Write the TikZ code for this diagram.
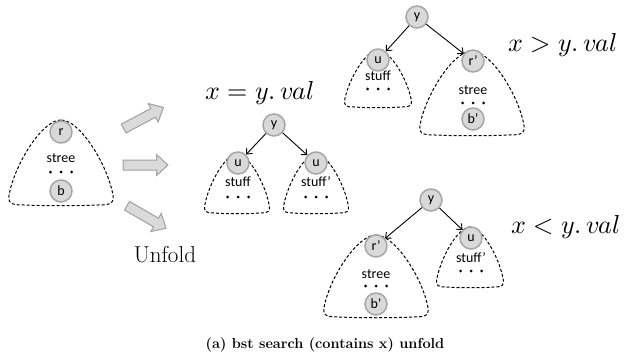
\documentclass[tikz,border=0pt]{standalone}
\usepackage{fontspec}
\usepackage{unicode-math}
\setsansfont{Carlito}
\usetikzlibrary{arrows.meta}
\definecolor{nodefill}{HTML}{D9D9D9}
\definecolor{nodeline}{HTML}{A6A6A6}
\definecolor{arrfill}{HTML}{DADADA}
\definecolor{arrline}{HTML}{A0A0A0}
\newcommand\blob[4]{%
  \draw[blobline]
    (#1,#2) .. controls ({#1-0.35*#4},#2) and ({#1-0.85*#4},{#3-0.5*(#3-#2)}) ..
    ({#1-0.97*#4},{#3-0.15*(#3-#2)}) .. controls ({#1-1.02*#4},{#3-0.02*(#3-#2)}) and ({#1-0.95*#4},#3) ..
    ({#1-0.7*#4},#3) .. controls ({#1-0.3*#4},{#3+1}) and ({#1+0.3*#4},{#3+1}) ..
    ({#1+0.7*#4},#3) .. controls ({#1+0.95*#4},#3) and ({#1+1.02*#4},{#3-0.02*(#3-#2)}) ..
    ({#1+0.97*#4},{#3-0.15*(#3-#2)}) .. controls ({#1+0.85*#4},{#3-0.5*(#3-#2)}) and ({#1+0.35*#4},#2) ..
    (#1,#2);}
\newcommand\tdots[2]{%
  \foreach \dx in {-10.5,0,10.5} \fill ({#1+\dx},#2) circle[radius=1.5pt];}
\newcommand\blockarrow[3]{%
  \draw[blockarr, shift={(#1,#2)}, rotate=#3]
    (-22.5,-5) -- (11,-5) -- (11,-10.5) -- (22.5,0) -- (11,10.5) -- (11,5) -- (-22.5,5) -- cycle;}
\begin{document}
\begin{tikzpicture}[x=1pt, y=-1pt,
  tn/.style={circle, draw=nodeline, fill=nodefill, line width=1.5pt, minimum size=22pt, inner sep=0pt,
    font=\sffamily\fontsize{14}{14}\selectfont},
  lbl/.style={font=\sffamily\fontsize{14}{14}\selectfont, inner sep=0pt},
  mathlbl/.style={font=\fontsize{26}{26}\selectfont, inner sep=0pt},
  blobline/.style={dashed, dash pattern=on 3pt off 2pt, line width=1pt},
  edgearr/.style={-{Straight Barb[length=4.5pt,width=8pt]}, line width=0.9pt},
  blockarr/.style={draw=arrline, fill=arrfill, line width=1pt}]
\useasboundingbox (0,0) rectangle (627,361);

% left tree
\blob{61}{120}{205}{53}
\node[tn] (r0) at (61,132) {r};
\node[lbl] (s0) at (61,158) {stree};
\tdots{61}{172}
\node[tn] (b0) at (61,191) {b};

% block arrows
\blockarrow{143.5}{118}{28}
\blockarrow{145.5}{165}{0}
\blockarrow{146.5}{217}{-30}
\node[font=\fontsize{23}{23}\selectfont, inner sep=0pt] (unfold) at (165,255) {Unfold};

% middle tree: x = y.val
\node[mathlbl] (m1) at (260,93) {$x = y.\,val$};
\blob{237}{154}{213}{33}
\blob{316}{154}{213}{33}
\node[tn] (y1) at (274,125) {y};
\node[tn] (u1) at (238,163) {u};
\node[tn] (u2) at (316,163) {u};
\node[lbl] (s1) at (238,182) {stuff};
\node[lbl] (s2) at (316,182) {stuff’};
\tdots{238}{197}
\tdots{316}{197}
\draw[edgearr] (y1) -- (u1);
\draw[edgearr] (y1) -- (u2);

% top right tree: x > y.val
\node[mathlbl] (m2) at (563,45) {$x > y.\,val$};
\blob{378}{50}{107}{34}
\blob{472}{51}{135}{53}
\node[tn] (y2) at (417,17) {y};
\node[tn] (u3) at (378,60) {u};
\node[tn] (r2) at (473,61) {r’};
\node[lbl] (s3) at (378,76) {stuff};
\tdots{378}{89}
\node[lbl] (s4) at (473,90) {stree};
\tdots{473}{103}
\node[tn] (b2) at (473,119) {b’};
\draw[edgearr] (y2) -- (u3);
\draw[edgearr] (y2) -- (r2);

% bottom right tree: x < y.val
\node[mathlbl] (m3) at (566,227) {$x < y.\,val$};
\blob{376}{235}{317}{53}
\blob{470}{227}{287}{34}
\node[tn] (y3) at (431,200) {y};
\node[tn] (r3) at (376,246) {r’};
\node[tn] (u4) at (471,238) {u};
\node[lbl] (s5) at (376,274) {stree};
\tdots{376}{286}
\node[tn] (b3) at (376,304) {b’};
\node[lbl] (s6) at (471,258) {stuff’};
\tdots{471}{271}
\draw[edgearr] (y3) -- (r3);
\draw[edgearr] (y3) -- (u4);

% caption
\node[font=\bfseries\fontsize{14.5}{14.5}\selectfont, inner sep=0pt] (cap) at (325,345) {(a) bst search (contains x) unfold};
\end{tikzpicture}
\end{document}
